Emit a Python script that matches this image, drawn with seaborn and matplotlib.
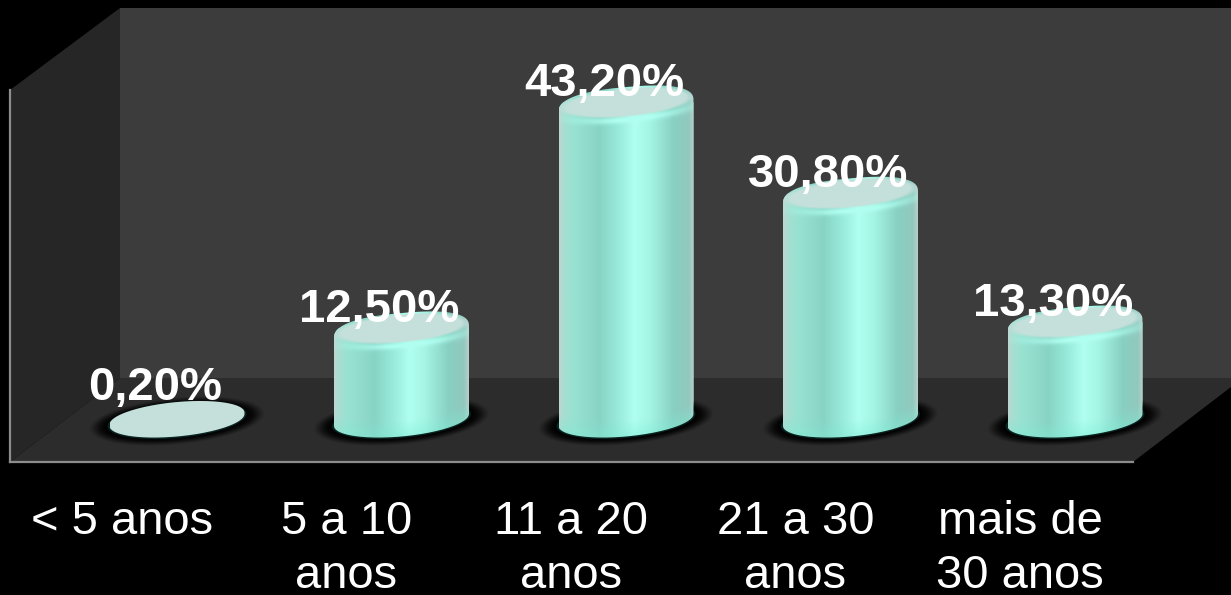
import numpy as np
import matplotlib
matplotlib.use("Agg")
import matplotlib.pyplot as plt
import seaborn as sns
from matplotlib.patches import Polygon, PathPatch
from matplotlib.path import Path
from matplotlib.transforms import ScaledTranslation

categories = ["< 5 anos", "5 a 10\nanos", "11 a 20\nanos", "21 a 30\nanos", "mais de\n30 anos"]
values = [0.2, 12.5, 43.2, 30.8, 13.3]
value_labels = ["0,20%", "12,50%", "43,20%", "30,80%", "13,30%"]

W, H = 1231, 595
PX_X = 224.5   # pixels per category
PX_Y = 7.36    # pixels per percent
X0, Y0 = 177, 420  # pixel position of the first bar base
A, B, SHEAR = 67.5, 16.5, 6.0  # cylinder ellipse, in pixels

sns.set_theme(style="dark", rc={"figure.facecolor": "black", "savefig.facecolor": "black",
                                "axes.facecolor": "none", "text.color": "white",
                                "xtick.color": "white"})
plt.rcParams["font.family"] = ["Liberation Sans", "DejaVu Sans"]

fig = plt.figure(figsize=(W / 100, H / 100), dpi=100)

# the 3d box behind the chart, in pixels
bg = fig.add_axes([0, 0, 1, 1], zorder=0)
bg.set_xlim(0, W)
bg.set_ylim(H, 0)
bg.axis("off")
bg.add_patch(Polygon([(120, 8), (1231, 8), (1231, 378), (120, 378)], color="#3c3c3c", lw=0))
bg.add_patch(Polygon([(10, 90), (120, 8), (120, 378), (10, 462)], color="#262626", lw=0))
bg.add_patch(Polygon([(120, 378), (1231, 378), (1231, 387), (1133, 462), (10, 462)], color="#2c2c2c", lw=0))

left, right, top, bottom = 10, 1231, 8, 462
ax = fig.add_axes([left / W, 1 - bottom / H, (right - left) / W, (bottom - top) / H], zorder=1)
sns.barplot(x=categories, y=values, color="#a0e8d8", width=135 / PX_X, saturation=1, ax=ax)
ax.set_xlim((left - X0) / PX_X, (right - X0) / PX_X)
ax.set_ylim((Y0 - bottom) / PX_Y, (Y0 - top) / PX_Y)
ax.set_yticks([])
ax.set_xlabel("")
ax.grid(False)
ax.patch.set_visible(False)
for s in ["top", "right"]:
    ax.spines[s].set_visible(False)
for s in ["left", "bottom"]:
    ax.spines[s].set_color("#8c8c8c")
    ax.spines[s].set_linewidth(1.6)
ax.spines["left"].set_bounds((Y0 - bottom) / PX_Y, (Y0 - 90) / PX_Y)
ax.spines["bottom"].set_bounds((left - X0) / PX_X, (1133 - X0) / PX_X)

ax.tick_params(axis="x", length=0, pad=27.5, labelsize=33.9)
for lab in ax.get_xticklabels():
    lab.set_linespacing(1.3)
    lab.set_transform(lab.get_transform() + ScaledTranslation(-55 / 100, 0, fig.dpi_scale_trans))


def ellipse_pts(i, v, a, b, dy=0.0, t0=0.0, t1=2 * np.pi, n=80, p=1.0):
    # sheared ellipse around bar i at height v, converted to data units
    # p below 1 squares the shoulders off a little
    t = np.linspace(t0, t1, n)
    px = a * np.sign(np.cos(t)) * np.abs(np.cos(t)) ** p
    py = b * np.sign(np.sin(t)) * np.abs(np.sin(t)) ** p + SHEAR * px / A + dy
    return np.column_stack([i + px / PX_X, v + py / PX_Y])


stops_u = [-1.0, -0.94, -0.8, -0.4, -0.15, 0.12, 0.35, 0.7, 0.93, 1.0]
stops_c = np.array([[190, 214, 208], [168, 222, 210], [152, 226, 210], [136, 212, 196], [150, 232, 216],
                    [176, 255, 240], [165, 245, 228], [136, 208, 194], [146, 200, 190], [180, 208, 202]]) / 255
face = np.array([197, 224, 219]) / 255
glow = np.array([176, 255, 240]) / 255
base_tint = np.array([125, 235, 212]) / 255

for i, (bar, v) in enumerate(zip(list(ax.patches), values)):
    # soft shadow on the floor
    for k in range(14):
        ax.add_patch(Polygon(ellipse_pts(i, 0, A + 20 - 1.5 * k, B + 7 - 0.6 * k, dy=-1), color="black",
                             alpha=0.05 + 0.025 * k, lw=0, zorder=1.5))
    ax.add_patch(Polygon(ellipse_pts(i, 0, A + 2, B + 1.5), color="#0a2422", lw=0, zorder=1.6))

    # outline of the cylinder: lower half of the base, rounded top
    lower = ellipse_pts(i, 0, A, B, t0=np.pi, t1=2 * np.pi)
    if v < 1:
        upper = ellipse_pts(i, v, A, B, t0=0, t1=np.pi)
    else:
        upper = ellipse_pts(i, v, A, 19, dy=-4, t0=0, t1=np.pi, p=0.8)
    outline = np.vstack([lower, upper, lower[:1]])
    clip = PathPatch(Path(outline), transform=ax.transData, fc="none", ec="none")
    ax.add_patch(clip)
    bar.set_clip_path(clip)
    bar.set_linewidth(0)

    # shading of the cylinder
    y_hi = v + 24 / PX_Y
    y_lo = -24 / PX_Y
    rows = int((y_hi - y_lo) * PX_Y)
    u = np.linspace(-1, 1, 135)
    ypx = np.linspace(y_hi, y_lo, rows) * PX_Y
    uu, yy = np.meshgrid(u, ypx)
    img = np.dstack([np.interp(uu, stops_u, stops_c[:, c]) for c in range(3)])

    # more saturated towards the base
    base_v = -(yy - SHEAR * uu)
    edge = np.sqrt(np.clip(1 - uu ** 2, 0, 1)) * B
    t = np.clip(1 - (edge - base_v) / 16, 0, 1)[..., None] * 0.4
    img = img * (1 - t) + base_tint * t

    # top face with a soft bright rim under it
    vv = -(yy - v * PX_Y - SHEAR * uu)
    r = np.sqrt((uu / 0.97) ** 2 + (vv / 14.0) ** 2)
    w = np.exp(-((r - 1.25) / 0.22) ** 2) * (vv > 0) * np.clip(1.2 - np.abs(uu - 0.1), 0, 1)
    img = img * (1 - w[..., None]) + glow * w[..., None]
    m = np.clip((1.06 - r) / 0.14, 0, 1)[..., None]
    img = img * (1 - m) + face * m
    if v < 1:
        img[:] = face
    im = ax.imshow(img, extent=(i - A / PX_X, i + A / PX_X, y_lo, y_hi), aspect="auto", zorder=3,
                   interpolation="bilinear")
    im.set_clip_path(clip)

    # value label, sits a little left of the cylinder
    dy = 19 if v < 1 else 6
    ax.annotate(value_labels[i], (i, v), xytext=(-22 * 0.72, dy * 0.72), textcoords="offset points",
                ha="center", va="baseline", fontsize=34, fontweight="bold", color="white", zorder=5)

ax.set_xlim((left - X0) / PX_X, (right - X0) / PX_X)
ax.set_ylim((Y0 - bottom) / PX_Y, (Y0 - top) / PX_Y)

fig.savefig("out.png", dpi=100, facecolor="black")
